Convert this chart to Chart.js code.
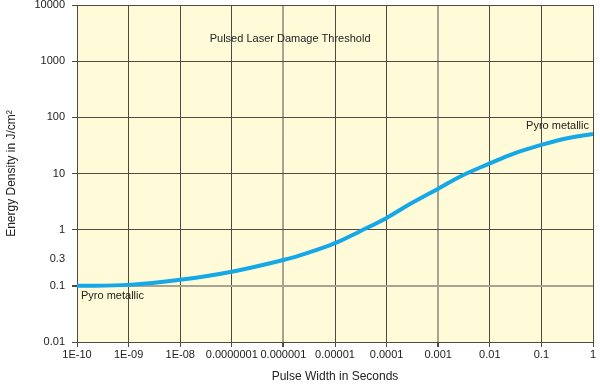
<!DOCTYPE html>
<html>
<head>
<meta charset="utf-8">
<script src="https://cdn.jsdelivr.net/npm/chart.js@4.4.1/dist/chart.umd.min.js"></script>
<style>
  html, body { margin: 0; padding: 0; background: #fff; }
  #wrap { width: 600px; height: 388px; }
</style>
</head>
<body>
<div id="wrap"><canvas id="laserChart"></canvas></div>
<script>
// values
const pulseWidths = [1e-10, 1e-9, 1e-8, 1e-7, 1e-6, 3e-6, 1e-5, 3e-5, 1e-4, 3e-4, 1e-3, 3e-3, 1e-2, 3e-2, 1e-1, 3e-1, 1];
const energyDensity = [0.1, 0.104, 0.128, 0.178, 0.288, 0.388, 0.574, 0.93, 1.62, 2.94, 5.36, 9.3, 15.1, 22.9, 32.3, 42.1, 50.6];

const xTicks = [1e-10, 1e-9, 1e-8, 1e-7, 1e-6, 1e-5, 1e-4, 1e-3, 1e-2, 1e-1, 1];
const xTickLabels = ['1E-10', '1E-09', '1E-08', '0.0000001', '0.000001', '0.00001', '0.0001', '0.001', '0.01', '0.1', '1'];
const yTicks = [0.01, 0.1, 0.3, 1, 10, 100, 1000, 10000];
const yTickLabels = ['0.01', '0.1', '0.3', '1', '10', '100', '1000', '10000'];

const notes = [
  { text: 'Pulsed Laser Damage Threshold', x: 1.35e-6, y: 2500, align: 'center', dx: 0, dy: 0 },
  { text: 'Pyro metallic', x: 1e-10, y: 0.1, align: 'left', dx: 4, dy: 10 },
  { text: 'Pyro metallic', x: 1, y: 50.6, align: 'right', dx: -4, dy: -8 }
];

const FONT = '"Liberation Sans", Arial, Helvetica, sans-serif';
const gridDark = '#4f4a42';
const gridGray = '#a9a392';

const plotBackground = {
  id: 'plotBackground',
  beforeDraw(chart) {
    const { ctx, chartArea: a } = chart;
    ctx.save();
    ctx.fillStyle = '#fffbd8';
    ctx.fillRect(a.left, a.top, a.right - a.left, a.bottom - a.top);
    ctx.restore();
  }
};

const noteLabels = {
  id: 'noteLabels',
  afterDatasetsDraw(chart) {
    const { ctx, scales } = chart;
    ctx.save();
    ctx.font = '11px ' + FONT;
    ctx.fillStyle = '#222';
    ctx.textBaseline = 'middle';
    notes.forEach(n => {
      ctx.textAlign = n.align;
      ctx.fillText(n.text, scales.x.getPixelForValue(n.x) + n.dx, scales.y.getPixelForValue(n.y) + n.dy);
    });
    ctx.restore();
  }
};

new Chart(document.getElementById('laserChart'), {
  type: 'line',
  data: {
    datasets: [{
      data: pulseWidths.map((p, i) => ({ x: p, y: energyDensity[i] })),
      borderColor: '#14a8e6',
      borderWidth: 4,
      pointRadius: 0,
      tension: 0.4,
      fill: false
    }]
  },
  plugins: [plotBackground, noteLabels],
  options: {
    responsive: true,
    maintainAspectRatio: false,
    animation: false,
    layout: { padding: { top: 5, right: 7, bottom: 0, left: 0 } },
    plugins: {
      legend: { display: false },
      tooltip: { enabled: false }
    },
    scales: {
      x: {
        type: 'logarithmic',
        min: 1e-10,
        max: 1,
        afterBuildTicks: s => { s.ticks = xTicks.map(v => ({ value: v })); },
        afterFit: s => { s.height = 46; s.paddingLeft = 0; s.paddingRight = 0; },
        border: { color: gridDark, width: 1 },
        grid: {
          color: c => (c.tick && (c.tick.value === 1e-6 || c.tick.value === 1e-3)) ? gridGray : gridDark,
          lineWidth: c => (c.tick && (c.tick.value === 1e-6 || c.tick.value === 1e-3)) ? 2 : 1,
          tickColor: gridDark,
          tickLength: 5
        },
        ticks: {
          autoSkip: false,
          maxRotation: 0,
          padding: 1,
          color: '#222',
          font: { family: FONT, size: 11 },
          callback: (v, i) => xTickLabels[i]
        },
        title: {
          display: true,
          text: 'Pulse Width in Seconds',
          color: '#222',
          font: { family: FONT, size: 12 }
        }
      },
      y: {
        type: 'logarithmic',
        min: 0.01,
        max: 10000,
        afterBuildTicks: s => { s.ticks = yTicks.map(v => ({ value: v })); },
        afterFit: s => { s.width = 77; s.paddingTop = 0; s.paddingBottom = 0; },
        border: { color: gridDark, width: 1 },
        grid: {
          color: c => {
            if (c.tick && c.tick.value === 0.3) return 'rgba(0,0,0,0)';
            if (c.tick && c.tick.value === 0.1) return gridGray;
            return gridDark;
          },
          lineWidth: c => (c.tick && c.tick.value === 0.1) ? 2 : 1,
          tickColor: c => (c.tick && c.tick.value === 0.3) ? 'rgba(0,0,0,0)' : gridDark,
          tickLength: 5
        },
        ticks: {
          autoSkip: false,
          padding: 7,
          color: '#222',
          font: { family: FONT, size: 11 },
          callback: (v, i) => yTickLabels[i]
        },
        title: {
          display: true,
          text: 'Energy Density in J/cm²',
          color: '#222',
          font: { family: FONT, size: 12 }
        }
      }
    }
  }
});
</script>
</body>
</html>
